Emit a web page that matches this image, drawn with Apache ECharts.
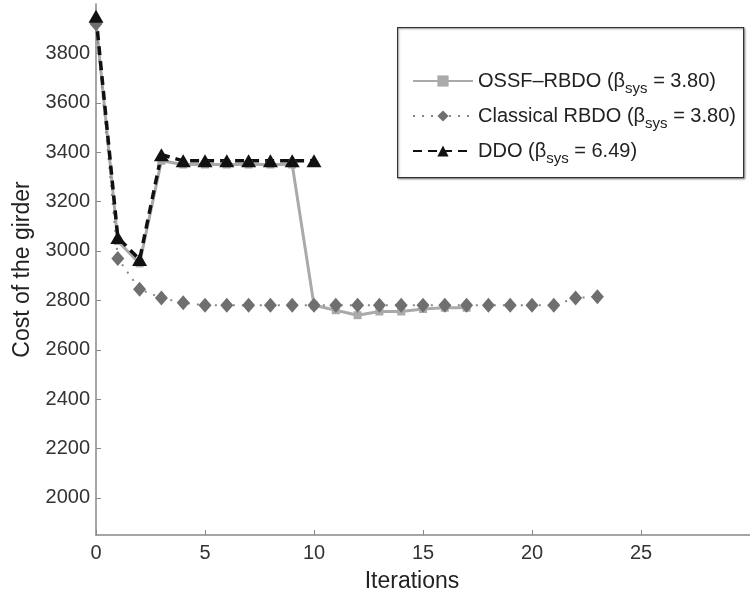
<!DOCTYPE html>
<html><head><meta charset="utf-8">
<script src="https://cdn.jsdelivr.net/npm/echarts@6/dist/echarts.min.js"></script>
<style>html,body{margin:0;padding:0;background:#fff}#c{width:750px;height:598px}</style>
</head><body><div id="c"></div>
<script>
const seriesNames = ['OSSF-RBDO', 'Classical RBDO', 'DDO'];
const legendLabels = ['OSSF\u2013RBDO (\u03b2{sub|sys} = 3.80)', 'Classical RBDO (\u03b2{sub|sys} = 3.80)', 'DDO (\u03b2{sub|sys} = 6.49)'];
const ossfIter = [0,1,2,3,4,5,6,7,8,9,10,11,12,13,14,15,16,17];
const ossfCost = [3930,3040,2950,3365,3350,3350,3350,3350,3350,3350,2780,2760,2740,2755,2755,2765,2770,2770];
const classicalIter = [0,1,2,3,4,5,6,7,8,9,10,11,12,13,14,15,16,17,18,19,20,21,22,23];
const classicalCost = [3920,2970,2845,2810,2790,2780,2780,2780,2780,2780,2780,2780,2780,2780,2780,2780,2780,2780,2780,2780,2780,2780,2810,2815];
const ddoIter = [0,1,2,3,4,5,6,7,8,9,10];
const ddoCost = [3950,3055,2965,3390,3365,3365,3365,3365,3365,3365,3365];
const yTicks = [2000,2200,2400,2600,2800,3000,3200,3400,3600,3800];
const xTicks = [0,5,10,15,20,25];

const pairs = (xs, ys) => xs.map((x, i) => [x, ys[i]]);
const font = 'Liberation Sans, Arial, sans-serif';
const chart = echarts.init(document.getElementById('c'));
chart.setOption({
  backgroundColor: '#fff',
  animation: false,
  textStyle: { fontFamily: font },
  grid: { left: 96, top: 4, right: -30, bottom: 60, containLabel: false },
  xAxis: {
    type: 'value', min: 0, max: 30, interval: 5,
    name: 'Iterations', nameLocation: 'middle', nameGap: 35,
    nameTextStyle: { fontSize: 23, color: '#222', fontFamily: font, padding: [0, 22, 0, 0] },
    axisLine: { lineStyle: { color: '#888', width: 1.5 } },
    axisTick: { inside: true, length: 5, lineStyle: { color: '#888' }, customValues: xTicks },
    axisLabel: { fontSize: 20, color: '#333', margin: 8, customValues: xTicks, formatter: v => String(v) },
    splitLine: { show: false }
  },
  yAxis: {
    type: 'value', min: 1850, max: 4000,
    name: 'Cost of the girder', nameLocation: 'middle', nameGap: 61,
    nameTextStyle: { fontSize: 23, color: '#222', fontFamily: font },
    axisLine: { show: true, lineStyle: { color: '#888', width: 1.5 } },
    axisTick: { show: true, inside: true, length: 5, lineStyle: { color: '#888' }, customValues: yTicks },
    axisLabel: { fontSize: 20, color: '#333', margin: 6, customValues: yTicks, formatter: v => String(v) },
    splitLine: { show: false }
  },
  graphic: [{
    type: 'rect', left: 397, top: 27, z: 0,
    shape: { width: 346, height: 150 },
    style: { fill: '#fff', stroke: '#333', lineWidth: 1.2, shadowBlur: 2, shadowColor: 'rgba(0,0,0,0.3)', shadowOffsetX: 1, shadowOffsetY: 1 }
  }],
  legend: {
    orient: 'vertical', left: 407, top: 66, itemWidth: 60, itemHeight: 14, itemGap: 10,
    data: seriesNames,
    formatter: name => legendLabels[seriesNames.indexOf(name)],
    textStyle: {
      fontSize: 20, color: '#222', fontFamily: font,
      rich: { sub: { fontSize: 15, color: '#222', fontFamily: font, padding: [15, 0, 0, 0] } }
    }
  },
  series: [
    { name: seriesNames[0], type: 'line', data: pairs(ossfIter, ossfCost),
      symbol: 'rect', symbolSize: 8, lineStyle: { color: '#aaa', width: 3 },
      itemStyle: { color: '#aaa' } },
    { name: seriesNames[1], type: 'line', data: pairs(classicalIter, classicalCost),
      symbol: 'diamond', symbolSize: [13, 15], lineStyle: { color: '#888', width: 2, type: [2, 7] },
      itemStyle: { color: '#6f6f6f' } },
    { name: seriesNames[2], type: 'line', data: pairs(ddoIter, ddoCost),
      symbol: 'triangle', symbolSize: [15, 13], lineStyle: { color: '#111', width: 3.5, type: [9, 6] },
      itemStyle: { color: '#111' } }
  ]
});
</script></body></html>
